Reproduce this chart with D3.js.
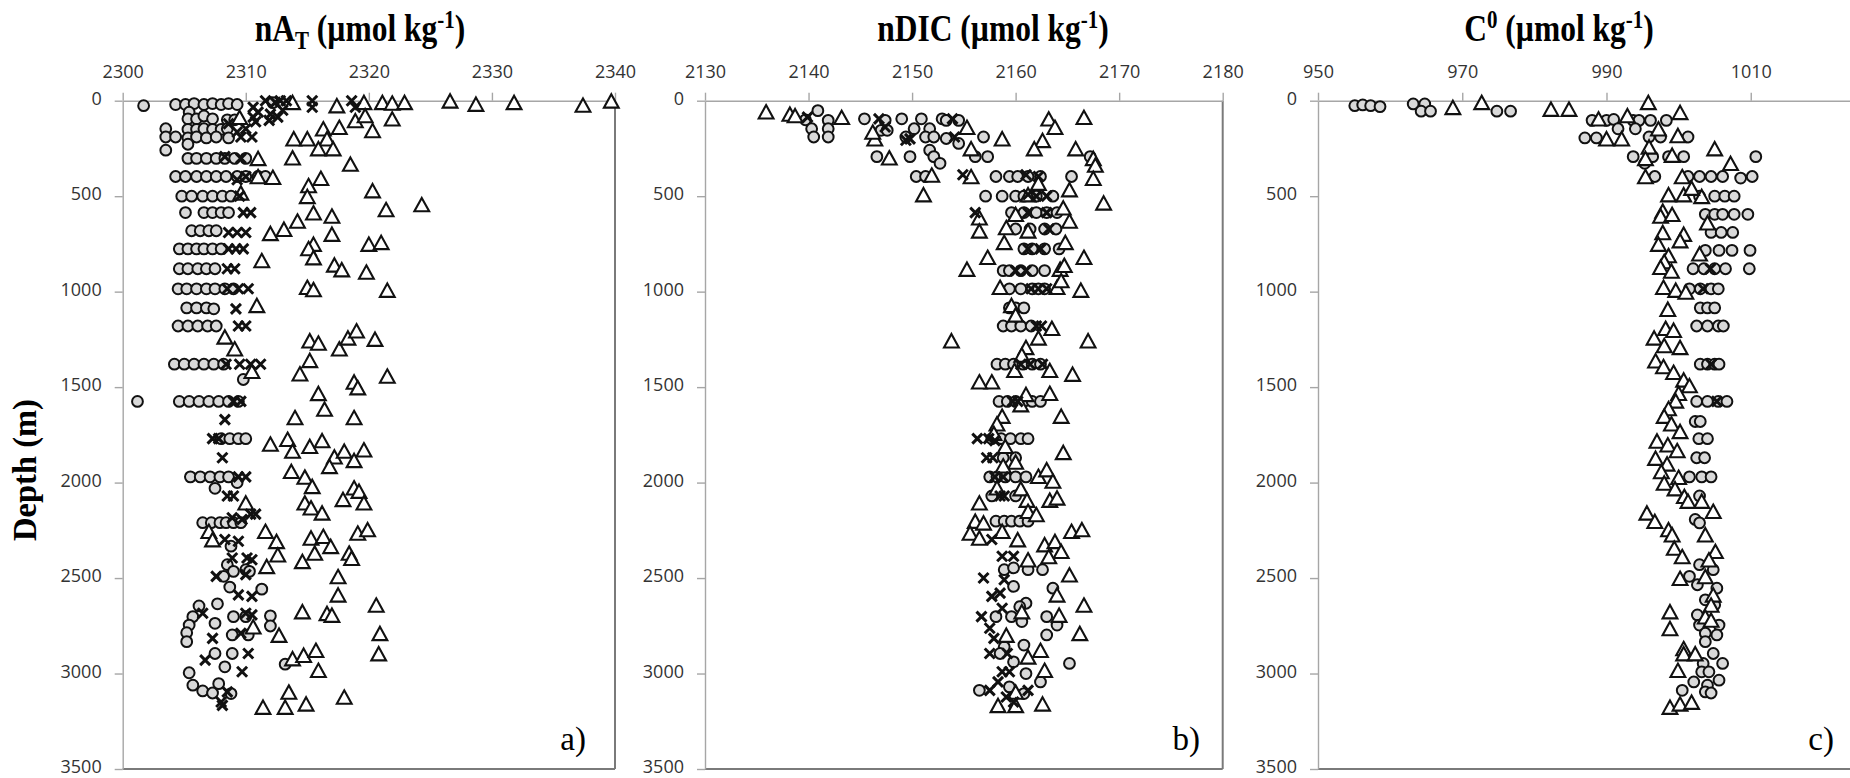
<!DOCTYPE html>
<html>
<head>
<meta charset="utf-8">
<script src="https://cdn.jsdelivr.net/npm/d3@7"></script>
<style>
  body { margin: 0; background: #fff; }
  svg { display: block; }
</style>
</head>
<body>
<div id="container"></div>
<script>
'use strict';

const width = 1850,
      height = 778,
      plotTop = 100.7,
      plotBottom = 769;

// [depth (m), value]
const atCircles = [
  [26,2301.7],[20,2304.3],[20,2305.1],[15,2305.8],[20,2306.6],[15,2307.3],[20,2308],[15,2308.6],[20,2309.3],[10,2312.2],
  [60,2305.4],[95,2305.3],[95,2306],[80,2306.6],[95,2307.3],[100,2308.5],[100,2309.1],
  [147,2303.5],[150,2305.3],[150,2306],[147,2306.6],[150,2307.3],[150,2308],[147,2308.5],
  [190,2303.5],[190,2304.3],[195,2305.3],[190,2306],[195,2306.8],[190,2307.6],[195,2308.6],
  [259,2303.5],[228,2305.3],
  [302,2305.3],[302,2306],[302,2306.8],[302,2307.6],[302,2308.3],[302,2309.1],[302,2310],
  [397,2304.3],[397,2305.1],[397,2306],[397,2306.8],[397,2307.6],[397,2308.4],[397,2309.3],[397,2310],[397,2311],[397,2311.6],
  [500,2304.8],[500,2305.6],[500,2306.5],[500,2307.3],[500,2308.1],[500,2308.8],
  [586,2305.1],[586,2306.6],[586,2307.3],[586,2308],[586,2308.6],
  [681,2305.6],[681,2306.3],[681,2307],[681,2307.6],
  [776,2304.6],[776,2305.3],[776,2306],[776,2306.6],[776,2307.3],[776,2308],
  [880,2304.6],[880,2305.3],[880,2306.1],[880,2306.8],[880,2307.5],
  [985,2304.5],[985,2305.2],[985,2306],[985,2306.8],[985,2307.5],[985,2308.3],[985,2309],
  [1085,2305.2],[1085,2306],[1085,2306.8],[1090,2307.4],
  [1180,2304.5],[1180,2305.3],[1180,2306.1],[1180,2306.9],[1180,2307.6],
  [1380,2304.2],[1380,2305],[1380,2305.8],[1380,2306.6],[1380,2307.4],[1380,2308.2],[1460,2309.8],
  [1575,2301.2],[1575,2304.6],[1575,2305.4],[1575,2306.2],[1575,2307],[1575,2307.8],[1575,2308.6],[1575,2309.4],
  [1770,2308],[1770,2308.7],[1770,2309.4],[1770,2310],
  [1970,2305.5],[1970,2306.3],[1970,2307.1],[1970,2307.9],[1970,2308.6],[2000,2309.3],[2030,2307.5],
  [2210,2306.5],[2210,2307.2],[2210,2307.9],[2210,2308.4],[2210,2309],[2210,2309.6],
  [2333,2308.8],[2430,2308.5],[2465,2309],[2491,2308.2],[2456,2310],[2465,2310.3],[2558,2311.3],[2547,2308.7],
  [2635,2307.7],[2646,2306.2],[2702,2305.7],[2746,2305.4],[2786,2305.2],[2833,2305.2],[2737,2307.5],
  [2702,2309],[2702,2310],[2698,2312],[2751,2312],[2798,2308.9],[2798,2310.2],[2895,2307.5],[2895,2308.9],
  [2965,2308.3],[2996,2305.4],[3061,2305.7],[3091,2306.5],[3102,2307.3],[3053,2307.8],[3105,2308.8],[2951,2313.2]
];

const atCrosses = [
  [34,2310.6],[0,2311.6],[9,2312.4],[0,2312.8],[0,2313.3],[0,2315.4],[34,2315.4],[0,2318.6],[34,2318.9],
  [60,2311],[70,2312],[50,2313],[110,2310.8],[86,2310.6],[103,2311.9],[86,2312.6],[121,2308.6],
  [147,2310],[164,2309.3],[190,2309.6],[190,2310.5],[293,2308.3],[302,2309.6],[397,2310],[414,2309.3],
  [500,2309.5],[586,2309.8],[586,2310.4],[690,2308.6],[690,2309.3],[690,2310],[776,2308.6],[776,2309.2],[776,2309.8],
  [880,2308.5],[880,2309.1],[985,2308.5],[985,2309.4],[985,2310.2],[1090,2309.2],[1180,2309.4],[1180,2310],
  [1380,2308.4],[1380,2309.5],[1380,2310.4],[1380,2311.2],[1575,2309],[1575,2309.6],[1670,2308.3],
  [1770,2307.3],[1770,2307.8],[1870,2308.1],[1970,2309.4],[1970,2310],[2070,2308.5],[2070,2309],
  [2184,2308.9],[2193,2309.7],[2165,2310.4],[2165,2310.8],
  [2298,2308.3],[2307,2309.4],[2395,2308.9],[2395,2310.1],[2404,2310.5],[2491,2307.6],[2482,2310],
  [2588,2309.4],[2596,2310.5],[2684,2306.5],[2684,2310],[2693,2310.5],[2816,2307.3],[2789,2309.6],
  [2895,2310.2],[2930,2306.7],[2991,2309.7],[3096,2308.5],[3149,2308],[3167,2308.1]
];

const atTriangles = [
  [17,2313.8],[34,2317.4],[17,2319.6],[17,2321.1],[20,2321.9],[17,2322.9],[9,2326.6],[26,2328.7],[17,2331.8],[31,2337.4],[9,2339.7],
  [95,2309.5],[112,2318.9],[86,2319.7],[103,2321.9],[155,2316.3],[147,2317.6],[164,2320.3],
  [207,2313.9],[207,2315],[207,2316.6],[259,2315.9],[259,2317.1],[310,2311],[307,2313.8],[340,2318.5],
  [405,2311],[409,2312.2],[414,2316.1],[452,2315.1],[491,2309.6],[509,2315],[479,2320.3],[552,2324.3],[578,2321.4],
  [595,2315.5],[612,2317],[638,2314.2],[681,2313.1],[703,2312],[707,2317],[759,2315.5],[759,2320],[750,2321],
  [782,2315.1],[830,2315.5],[845,2311.3],[868,2317.2],[893,2317.8],[905,2319.8],[1000,2321.5],[985,2315],[997,2315.5],[1080,2310.9],
  [1265,2315.2],[1277,2315.9],[1307,2317.6],[1250,2318.3],[1213,2319],[1257,2320.5],[1307,2309.1],[1245,2308.3],
  [1425,2310.5],[1438,2314.4],[1481,2318.8],[1511,2319.1],[1450,2321.5],[1368,2315.2],
  [1541,2315.9],[1667,2318.8],[1667,2314],[1623,2316.4],
  [1806,2312],[1781,2313.4],[1843,2313.8],[1818,2315.2],[1788,2316.2],[1873,2317.2],[1843,2318],[1892,2318.8],[1836,2319.6],
  [1949,2313.7],[1979,2314.8],[2028,2315.4],[1923,2316.8],[2035,2318.8],[2053,2319.2],
  [2114,2310],[2263,2311.6],[2316,2312.5],[2386,2312.6],[2447,2311.7],[2263,2307],[2307,2307.3],[2421,2314.6],
  [2114,2314.8],[2140,2315.3],[2167,2316.2],[2298,2315.3],[2377,2315.6],[2289,2316.3],[2342,2316.9],[2096,2317.9],
  [2114,2319.6],[2377,2318.4],[2404,2318.6],[2272,2319.1],[2254,2319.9],[2500,2317.5],[2596,2317.5],
  [2684,2314.6],[2693,2316.6],[2702,2317],[2649,2320.6],[2798,2320.9],[2904,2320.8],[2763,2310.6],[2807,2312.7],
  [2930,2313.8],[2912,2314.7],[2886,2315.7],[2991,2315.9],[3105,2313.5],[3131,2318],[3184,2311.4],[3184,2313.2],[3167,2314.9]
];

const dicCircles = [
  [52,2140.9],[100,2139.7],[147,2140.3],[103,2141.9],[147,2141.9],[190,2140.5],[190,2141.9],
  [95,2145.4],[103,2147.4],[95,2149],[95,2150.9],[95,2152.9],[103,2154.5],
  [147,2150.2],[147,2151.7],[103,2153.3],[155,2147],[155,2147.6],
  [190,2149.4],[190,2151.3],[190,2152.1],[198,2153.3],[224,2154.5],[190,2156.9],
  [293,2146.6],[293,2149.8],[259,2151.7],[293,2152.1],[328,2152.7],[293,2156.1],[293,2157.3],[293,2167.2],
  [397,2150.4],[397,2151.3],[397,2158.1],[397,2159.4],[397,2160.2],[397,2161.2],[397,2162.4],[397,2165.4],
  [500,2157.1],[500,2158.7],[500,2160],[500,2160.8],[500,2162],[500,2163.6],
  [586,2159.6],[586,2160.8],[586,2162],[586,2163],[586,2164],
  [672,2160],[672,2161.4],[672,2162.8],[672,2163.9],
  [776,2160.8],[776,2161.6],[776,2162.8],[776,2164.2],
  [890,2158.8],[890,2159.4],[890,2160.5],[890,2161.6],[890,2162.8],
  [985,2159.4],[985,2160.5],[985,2161.6],[985,2162.2],[985,2162.8],
  [1085,2159.4],[1085,2160],[1085,2160.8],
  [1180,2158.8],[1180,2159.6],[1180,2160.5],[1180,2161.5],
  [1380,2158.2],[1380,2159],[1380,2159.8],[1380,2160.7],[1380,2161.6],[1380,2162.4],
  [1575,2158.4],[1575,2159.2],[1575,2160],[1575,2160.8],[1575,2161.6],[1575,2162.4],
  [1770,2157.7],[1770,2158.6],[1770,2159.5],[1770,2160.5],[1770,2161.2],
  [1870,2158.8],[1870,2160],
  [1970,2157.5],[1970,2158.2],[1970,2159],[1970,2160],[1970,2161],
  [2070,2157.7],[2070,2160],
  [2202,2158.1],[2202,2158.9],[2202,2159.6],[2202,2160.4],[2202,2161.2],
  [2456,2158.9],[2447,2159.8],[2456,2161.2],[2456,2162.6],[2544,2159.8],[2553,2163.6],[2632,2161],[2650,2160.4],
  [2702,2163],[2746,2164],[2798,2163],[2702,2158.1],[2702,2159.6],[2728,2160.6],[2851,2160.8],[2947,2165.2],
  [2939,2159.8],[3000,2161],[3044,2162.4],[3088,2156.5],[3070,2159.4],[3105,2160.8],[2860,2158.9],[2895,2158.5]
];

const dicCrosses = [
  [86,2139.9],[95,2146.8],[138,2147.4],[95,2153.9],[207,2149.4],[200,2149.8],[190,2154.1],
  [388,2154.9],[388,2161],[397,2162.2],[491,2161.2],[500,2162],[500,2163],
  [586,2156.1],[586,2161.2],[586,2163],[672,2163.2],[776,2161.2],[776,2162.4],
  [890,2160],[890,2161],[985,2161.5],[985,2162.2],[985,2163],[1180,2162],[1180,2162.5],
  [1380,2160.5],[1380,2161.4],[1380,2162.6],[1575,2159.7],[1575,2160.2],
  [1770,2156.3],[1770,2157.4],[1780,2158],[1870,2157.2],[1870,2157.8],[1970,2158],[1970,2158.8],[2070,2158.5],[2070,2158.9],
  [2500,2156.9],[2596,2157.7],[2579,2158.5],[2702,2156.7],[2763,2157.5],[2816,2157.9],[2895,2157.5],
  [2386,2158.7],[2386,2159.8],[2298,2157.7],[2991,2158.7],[2991,2159.4],[3044,2158.3],[3088,2157.5],
  [3123,2159.1],[3149,2159.8],[3088,2161.2],[2509,2158.9],[2658,2158.7],[2895,2159.2]
];

const dicTriangles = [
  [66,2135.9],[78,2138.2],[86,2138.7],[95,2143.2],[207,2146.4],[172,2146.2],[147,2155.3],[259,2155.7],[207,2158.7],
  [307,2147.8],[397,2151.9],[500,2151.1],[405,2155.7],[103,2163.2],[147,2163.8],[216,2162.6],[259,2161.8],[95,2166.6],
  [259,2165.8],[310,2167.5],[345,2167.7],[414,2167.5],[543,2168.5],[474,2165.2],[440,2162.2],[500,2161.2],[569,2164.6],
  [638,2165.2],[603,2160],[621,2156.5],[690,2156.5],[672,2159.1],[690,2161.2],[750,2158.9],[750,2164.8],[828,2157.3],[828,2166.6],
  [890,2155.3],[890,2164.3],[870,2164.7],[985,2158.5],[985,2164],[1000,2166.3],[950,2164.4],[1080,2159.6],[1130,2160],
  [1200,2163.5],[1265,2153.8],[1265,2167],[1250,2162.2],[1300,2161],[1340,2160.6],[1420,2163.3],[1440,2165.5],[1420,2159.9],
  [1480,2157.7],[1480,2156.5],[1546,2161],[1540,2163.3],[1600,2160.5],[1660,2158.7],[1660,2164.4],[1700,2158.2],[1750,2157.9],
  [1818,2159],[1850,2164.6],[1900,2160],[1920,2158.8],[1975,2162.2],[1940,2163],[2000,2163.6],[2035,2158.2],[2040,2160.5],
  [2100,2163.3],[2100,2161.1],
  [2114,2156.5],[2088,2164],[2210,2156.1],[2219,2156.9],[2272,2155.6],[2298,2156.5],[2263,2158.7],[2307,2160.2],
  [2158,2161.2],[2175,2162],[2333,2162.8],[2316,2163.8],[2368,2164.4],[2263,2165.4],[2254,2166.4],[2395,2163.2],[2412,2161.2],
  [2491,2165.2],[2596,2164],[2649,2166.6],[2702,2164.2],[2798,2166.2],[2684,2160.6],[2807,2159.1],[2886,2162.4],[2921,2161.2],
  [2991,2162.8],[3105,2160],[3175,2158.3],[3175,2160],[3167,2162.6]
];

const c0Circles = [
  [26,955.1],[22,956.2],[26,957.3],[31,958.6],[17,963.2],[17,964.8],[55,964.3],[55,965.6],[55,974.8],[55,976.7],
  [103,988],[103,990],[98,991],[103,993.7],[103,994.5],[103,996.1],[103,998.3],
  [195,987],[195,988.6],[147,991.6],[147,994],[190,995.9],[190,997.5],[190,1001.3],
  [293,993.7],[293,996.4],[293,998.6],[293,1000.7],[293,1010.7],[328,995.3],
  [397,996.7],[397,1001.3],[397,1002.9],[397,1004.5],[397,1006.1],[405,1008.6],[397,1010.2],
  [500,1002.9],[500,1005],[500,1006.4],[500,1007.7],
  [595,1003.7],[595,1005],[595,1006.1],[595,1007.7],[595,1009.6],
  [690,1004.5],[690,1005.9],[690,1007.5],
  [784,1003.7],[784,1005.6],[784,1007.4],[784,1009.9],
  [880,1002],[880,1003.5],[880,1005],[880,1006.5],[880,1009.8],
  [985,1001.5],[985,1003],[985,1004.5],[985,1005.5],
  [1085,1003],[1085,1004],[1085,1005],
  [1180,1002.5],[1180,1004],[1180,1005.5],[1180,1006.2],
  [1380,1003],[1380,1004],[1380,1005],[1380,1005.6],
  [1575,1002.5],[1575,1004],[1575,1005.5],[1575,1006.7],
  [1680,1002.3],[1680,1003],[1770,1002.8],[1770,1004],[1870,1002.5],[1870,1003.6],
  [1970,1001.5],[1970,1003.2],[1970,1004.5],[2070,1002.9],
  [2193,1002.3],[2211,1002.9],[2430,1002.9],[2456,1004.8],[2491,1001.5],[2535,1002.6],[2553,1005.3],[2614,1003.7],
  [2640,1005],[2693,1002.6],[2746,1002.9],[2746,1005.6],[2789,1003.7],[2798,1005.3],[2833,1003.7],[2895,1004.8],
  [2947,1003.4],[2947,1006.1],[2991,1003.2],[2991,1004.2],[3035,1005.6],[3061,1004],[3044,1002.1],[3096,1003.7],
  [3102,1004.5],[3088,1000.5]
];

const c0Crosses = [
  [880,1004.4],[985,1003.4],[1380,1004.5],[1575,1005.3]
];

const c0Triangles = [
  [43,968.7],[17,972.7],[52,982.3],[52,984.8],[103,988.9],[86,992.9],[17,995.8],[69,1000.2],[155,997.2],
  [207,990],[207,992.1],[250,995.9],[310,995.4],[293,999.1],[190,999.9],[259,1005],[336,1007.2],
  [405,995.4],[405,1000.5],[500,998.6],[500,1000.7],[509,1003.2],[466,1001.8],
  [586,997.8],[612,997.5],[603,999.1],[647,1004],[707,1000.7],[698,997.8],[759,997.2],[741,1000.2],[819,998.6],[810,1002.9],
  [850,998],[880,997.5],[900,999],[985,997.9],[1000,999.6],[1010,1001],[1100,998.5],[1200,998.2],[1210,999.3],
  [1250,996.6],[1290,998],[1300,1000.2],[1370,996.8],[1400,997.9],[1430,999.3],[1470,1000.7],[1500,1001.5],
  [1540,1000],[1580,999.6],[1620,998.6],[1660,998],[1700,999],[1740,1000.2],[1790,997],[1810,998.5],[1840,999.8],
  [1880,996.8],[1910,998.4],[1950,997.6],[1980,1000],[2010,998],[2040,999.5],[2080,1000.8],
  [2167,995.6],[2211,996.7],[2254,998.6],[2281,999.1],[2351,999.4],[2395,1000.5],[2509,1000.2],[2684,998.8],
  [2772,998.8],[2877,1000.7],[2904,1000.7],[2904,1002.3],[2991,999.9],[3184,998.8],[3167,1000.2],[3158,1001.8],
  [2105,1001.3],[2105,1003.2],[2158,1004.8],[2281,1003.7],[2368,1005.1],[2412,1004.2],[2500,1003.7],[2596,1004.8],
  [2649,1004.5],[2711,1003.7],[2728,1004.5]
];

const atTicks = [2300, 2310, 2320, 2330, 2340];
const dicTicks = [2130, 2140, 2150, 2160, 2170, 2180];
const c0Ticks = [950, 970, 990, 1010, 1030];
const c0TickLabels = ["950", "970", "990", "1010", ""];
const depthTicks = [0, 500, 1000, 1500, 2000, 2500, 3000, 3500];

const panels = [
  {domain: [2300, 2340], ticks: atTicks, x0: 122.7, x1: 615, titleX: 360, labelX: 586, label: "a)",
   title: [["nA"], ["T", "sub"], [" (\u00b5mol kg"], ["-1", "sup"], [")"]],
   circles: atCircles, crosses: atCrosses, triangles: atTriangles},
  {domain: [2130, 2180], ticks: dicTicks, x0: 705, x1: 1222.7, titleX: 993, labelX: 1200, label: "b)",
   title: [["nDIC (\u00b5mol kg"], ["-1", "sup"], [")"]],
   circles: dicCircles, crosses: dicCrosses, triangles: dicTriangles},
  {domain: [950, 1030], ticks: c0Ticks, tickLabels: c0TickLabels, x0: 1318, x1: 1895, titleX: 1559, labelX: 1834, label: "c)",
   title: [["C"], ["0", "sup"], [" (\u00b5mol kg"], ["-1", "sup"], [")"]],
   circles: c0Circles, crosses: c0Crosses, triangles: c0Triangles}
];

const serif = "'Liberation Serif', 'Times New Roman', serif";
const sans = "'Open Sans', 'Liberation Sans', sans-serif";

const svg = d3.select("#container")
  .append("svg")
  .attr("width", width)
  .attr("height", height);

const yScale = d3.scaleLinear()
  .domain([0, 3500])
  .range([plotTop, plotBottom]);

panels.forEach(drawPanel);

svg.append("text")
  .attr("transform", `translate(36, 470) rotate(-90) scale(1.05, 1.1)`)
  .attr("text-anchor", "middle")
  .attr("font-family", serif)
  .attr("font-weight", "bold")
  .attr("font-size", 31)
  .text("Depth (m)");

function drawPanel(p) {
  const xScale = d3.scaleLinear()
    .domain(p.domain)
    .range([p.x0, p.x1]);

  const g = svg.append("g");

  // dark frame on right and bottom
  g.append("line")
    .attr("x1", p.x1).attr("x2", p.x1)
    .attr("y1", plotTop).attr("y2", plotBottom)
    .attr("stroke", "#7a7a7a").attr("stroke-width", 2);
  g.append("line")
    .attr("x1", p.x0).attr("x2", p.x1)
    .attr("y1", plotBottom).attr("y2", plotBottom)
    .attr("stroke", "#7a7a7a").attr("stroke-width", 2);

  const xAxis = d3.axisTop(xScale)
    .tickValues(p.ticks)
    .tickFormat((d, i) => p.tickLabels ? p.tickLabels[i] : d3.format("d")(d))
    .tickSize(8)
    .tickSizeOuter(0)
    .tickPadding(15);

  const yAxis = d3.axisLeft(yScale)
    .tickValues(depthTicks)
    .tickFormat(d3.format("d"))
    .tickSize(8)
    .tickSizeOuter(0)
    .tickPadding(13);

  g.append("g")
    .attr("class", "axis x-axis")
    .attr("transform", `translate(0, ${plotTop})`)
    .call(xAxis);

  g.append("g")
    .attr("class", "axis y-axis")
    .attr("transform", `translate(${p.x0}, 0)`)
    .call(yAxis);

  g.selectAll(".axis")
    .attr("font-family", sans)
    .attr("font-size", 18);
  g.selectAll(".axis path, .axis line")
    .attr("stroke", "#a6a6a6")
    .attr("stroke-width", 1.4);
  g.selectAll(".axis text")
    .attr("fill", "#333");
  g.selectAll(".y-axis text")
    .attr("dy", "0.2em");

  // title with sub/superscripts, slightly tall like the original
  const title = g.append("text")
    .attr("transform", `translate(${p.titleX}, 41) scale(1, 1.2)`)
    .attr("text-anchor", "middle")
    .attr("font-family", serif)
    .attr("font-weight", "bold")
    .attr("font-size", 31.5);
  let shift = 0;
  p.title.forEach(([txt, kind]) => {
    const t = title.append("tspan").text(txt);
    let target = 0;
    if (kind === "sub") target = 7;
    if (kind === "sup") target = -11;
    if (kind) t.attr("font-size", 21);
    t.attr("dy", target - shift);
    shift = target;
  });

  g.append("text")
    .attr("x", p.labelX)
    .attr("y", 750)
    .attr("text-anchor", "end")
    .attr("font-family", serif)
    .attr("font-size", 33)
    .text(p.label);

  g.selectAll(".dot")
    .data(p.circles)
    .join("circle")
    .attr("class", "dot")
    .attr("cx", d => xScale(d[1]))
    .attr("cy", d => yScale(d[0]))
    .attr("r", 5.4)
    .attr("fill", "#d9d9d9")
    .attr("stroke", "#111")
    .attr("stroke-width", 2);

  g.selectAll(".tri")
    .data(p.triangles)
    .join("path")
    .attr("class", "tri")
    .attr("transform", d => `translate(${xScale(d[1])}, ${yScale(d[0])})`)
    .attr("d", "M0,-8.2L7.4,5.2L-7.4,5.2Z")
    .attr("fill", "#fff")
    .attr("stroke", "#111")
    .attr("stroke-width", 2.1)
    .attr("stroke-linejoin", "miter");

  g.selectAll(".cross")
    .data(p.crosses)
    .join("path")
    .attr("class", "cross")
    .attr("transform", d => `translate(${xScale(d[1])}, ${yScale(d[0])})`)
    .attr("d", "M-5,-5L5,5M-5,5L5,-5")
    .attr("stroke", "#111")
    .attr("stroke-width", 3);
}
</script>
</body>
</html>
